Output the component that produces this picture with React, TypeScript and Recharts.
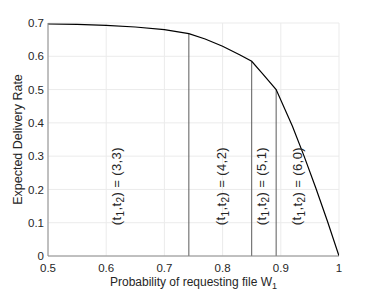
import React from 'react';
import { LineChart, Line, XAxis, YAxis, CartesianGrid, ReferenceLine, ReferenceDot, Label } from 'recharts';

const curveX = [0.5, 0.55, 0.6, 0.65, 0.7, 0.742, 0.77, 0.8, 0.83, 0.85, 0.87, 0.892, 0.92, 0.94, 0.96, 0.98, 1.0];
const curveY = [0.697, 0.696, 0.693, 0.688, 0.68, 0.668, 0.652, 0.63, 0.604, 0.585, 0.545, 0.5, 0.39, 0.3, 0.205, 0.105, 0.0];

const boundaryX = [0.742, 0.85, 0.892];
const boundaryTop = [0.668, 0.585, 0.5];

const regionLabelX = [0.617, 0.797, 0.866, 0.927];
const regionLabelY = [0.21, 0.21, 0.21, 0.21];
const regionT1 = ['3', '4', '5', '6'];
const regionT2 = ['3', '2', '1', '0'];

const xTicks = [0.5, 0.6, 0.7, 0.8, 0.9, 1];
const yTicks = [0, 0.1, 0.2, 0.3, 0.4, 0.5, 0.6, 0.7];

const data = curveX.map((x, i) => ({ x, y: curveY[i] }));

const FONT = '"Liberation Sans", Arial, Helvetica, sans-serif';
const TEXT = '#262626';

const fmt = (v: number) => (v === 0 ? '0' : v === 1 ? '1' : String(v));

const RegionLabel = (t1: string, t2: string) => (props: any) => {
  const { cx, cy } = props;
  return (
    <text
      x={cx}
      y={cy}
      transform={`rotate(-90, ${cx}, ${cy})`}
      textAnchor="middle"
      dominantBaseline="central"
      fontFamily={FONT}
      fontSize={13}
      letterSpacing={0.4}
      fill={TEXT}
    >
      (t<tspan dy={4} fontSize={10}>1</tspan>
      <tspan dy={-4}>,t</tspan>
      <tspan dy={4} fontSize={10}>2</tspan>
      <tspan dy={-4}>{`) = (${t1},${t2})`}</tspan>
    </text>
  );
};

export default function App() {
  return (
    <div style={{ position: 'absolute', left: 0, top: 0, background: '#fff' }}>
      <LineChart
        width={374}
        height={297}
        data={data}
        margin={{ top: 23, right: 35, bottom: 11, left: 8 }}
      >
        <CartesianGrid stroke="#ebebeb" strokeWidth={1} />
        <XAxis
          dataKey="x"
          type="number"
          domain={[0.5, 1]}
          ticks={xTicks}
          tickFormatter={fmt}
          height={30}
          stroke="#8a8a8a"
          tickLine={false}
          tickSize={6}
          tickMargin={2}
          tick={{ fill: TEXT, fontSize: 11.5, fontFamily: FONT }}
          allowDataOverflow
        >
          <Label
            content={(p: any) => {
              const vb = p.viewBox;
              const cx = vb.x + vb.width / 2;
              const y = 286;
              return (
                <text x={cx} y={y} textAnchor="middle" fontFamily={FONT} fontSize={12} fill={TEXT}>
                  Probability of requesting file W<tspan dy={3} fontSize={9}>1</tspan>
                </text>
              );
            }}
          />
        </XAxis>
        <YAxis
          type="number"
          domain={[0, 0.7]}
          ticks={yTicks}
          tickFormatter={fmt}
          width={40}
          stroke="#8a8a8a"
          tickLine={false}
          tickSize={0}
          tickMargin={4}
          tick={{ fill: TEXT, fontSize: 11.5, fontFamily: FONT }}
          allowDataOverflow
        >
          <Label
            content={(p: any) => {
              const vb = p.viewBox;
              const cy = vb.y + vb.height / 2;
              const cx = 18;
              return (
                <text
                  x={cx}
                  y={cy}
                  transform={`rotate(-90, ${cx}, ${cy})`}
                  textAnchor="middle"
                  dominantBaseline="central"
                  fontFamily={FONT}
                  fontSize={12.5}
                  fill={TEXT}
                >
                  Expected Delivery Rate
                </text>
              );
            }}
          />
        </YAxis>
        {boundaryX.map((bx, i) => (
          <ReferenceLine
            key={`b${i}`}
            segment={[{ x: bx, y: 0 }, { x: bx, y: boundaryTop[i] }]}
            stroke="#5a5a5a"
            strokeWidth={1}
          />
        ))}
        <Line
          type="linear"
          dataKey="y"
          stroke="#000"
          strokeWidth={1.2}
          dot={false}
          isAnimationActive={false}
        />
        {regionLabelX.map((lx, i) => (
          <ReferenceDot
            key={`l${i}`}
            x={lx}
            y={regionLabelY[i]}
            r={0}
            shape={RegionLabel(regionT1[i], regionT2[i])}
          />
        ))}
      </LineChart>
    </div>
  );
}
